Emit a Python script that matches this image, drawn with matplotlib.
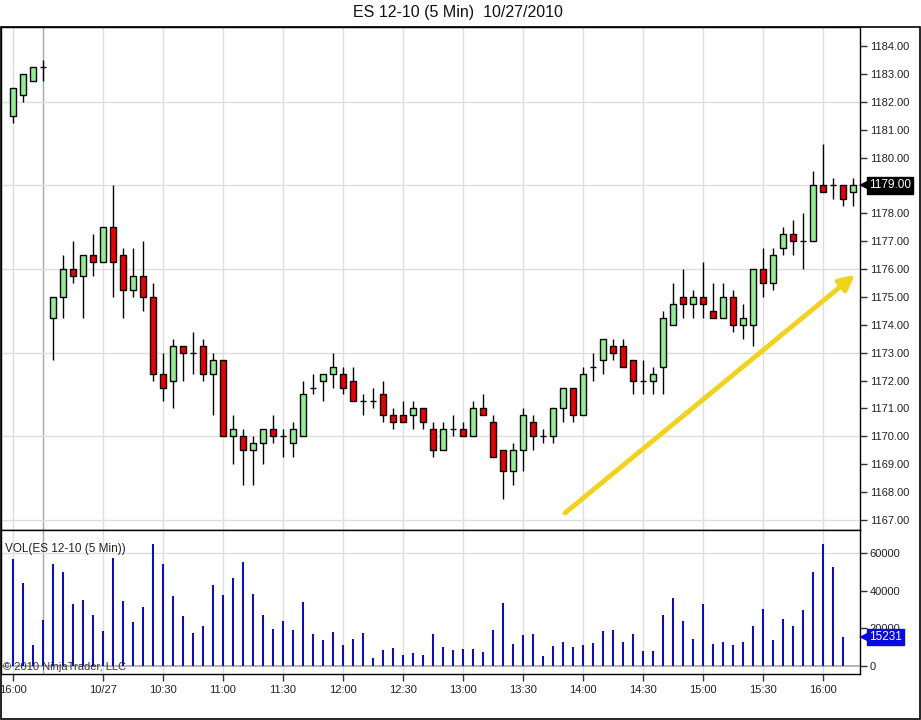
import matplotlib
matplotlib.use("Agg")
import matplotlib.pyplot as plt
import matplotlib.transforms as mtransforms
from matplotlib.patches import Rectangle
import numpy as np

plt.rcParams['font.family'] = ['Liberation Sans', 'DejaVu Sans']

title = "ES 12-10 (5 Min)  10/27/2010"
opens = [1181.5, 1182.25, 1182.75, 1183.25, 1174.25, 1175.0, 1176.0, 1175.75, 1176.5, 1176.25,
         1177.5, 1176.5, 1175.25, 1175.75, 1175.0, 1172.25, 1172.0, 1173.25, 1173.0, 1173.25,
         1172.25, 1172.75, 1170.0, 1170.0, 1169.5, 1169.75, 1170.25, 1170.0, 1169.75, 1170.0,
         1171.75, 1172.0, 1172.25, 1172.25, 1172.0, 1171.25, 1171.25, 1171.5, 1170.75, 1170.75,
         1170.75, 1171.0, 1170.25, 1169.5, 1170.25, 1170.25, 1170.0, 1171.0, 1170.5, 1169.5,
         1168.75, 1169.5, 1170.5, 1170.0, 1170.0, 1171.0, 1171.75, 1170.75, 1172.5, 1172.75,
         1173.25, 1173.25, 1172.75, 1172.0, 1172.0, 1172.5, 1174.0, 1175.0, 1174.75, 1175.0,
         1174.5, 1174.25, 1175.0, 1174.0, 1174.0, 1176.0, 1175.5, 1176.75, 1177.25, 1177.0,
         1177.0, 1179.0, 1179.0, 1179.0, 1178.75]
highs = [1182.5, 1183.0, 1183.25, 1183.5, 1175.0, 1176.5, 1177.0, 1176.5, 1177.25, 1177.5,
         1179.0, 1176.75, 1176.75, 1177.0, 1175.5, 1173.0, 1173.5, 1173.25, 1173.75, 1173.5,
         1173.0, 1172.75, 1170.75, 1170.25, 1170.0, 1170.25, 1170.75, 1170.25, 1170.5, 1172.0,
         1172.25, 1172.25, 1173.0, 1172.5, 1172.5, 1171.5, 1171.75, 1172.0, 1171.0, 1171.25,
         1171.25, 1171.0, 1170.5, 1170.5, 1170.75, 1170.5, 1171.25, 1171.5, 1170.75, 1169.5,
         1169.75, 1171.0, 1170.75, 1170.25, 1171.0, 1171.75, 1171.75, 1172.5, 1173.0, 1173.5,
         1173.5, 1173.5, 1172.75, 1172.75, 1172.5, 1174.5, 1175.5, 1176.0, 1175.25, 1176.25,
         1175.5, 1175.5, 1175.25, 1174.75, 1176.0, 1176.75, 1176.75, 1177.5, 1177.75, 1178.0,
         1179.5, 1180.5, 1179.25, 1179.0, 1179.25]
lows = [1181.25, 1182.0, 1182.75, 1182.75, 1172.75, 1174.25, 1175.5, 1174.25, 1175.75, 1176.25,
        1175.0, 1174.25, 1175.0, 1174.5, 1172.0, 1171.25, 1171.0, 1172.0, 1172.25, 1172.0,
        1170.75, 1170.0, 1169.0, 1168.25, 1168.25, 1169.0, 1169.75, 1169.25, 1169.25, 1170.0,
        1171.5, 1171.25, 1171.75, 1171.5, 1171.25, 1170.75, 1171.0, 1170.5, 1170.25, 1170.5,
        1170.25, 1170.25, 1169.25, 1169.5, 1170.0, 1170.0, 1170.0, 1170.75, 1169.25, 1167.75,
        1168.25, 1168.75, 1169.5, 1169.75, 1169.75, 1170.5, 1170.5, 1170.75, 1172.0, 1172.25,
        1172.75, 1172.5, 1171.5, 1171.5, 1171.5, 1171.5, 1174.0, 1174.25, 1174.25, 1174.25,
        1174.25, 1174.25, 1173.75, 1173.5, 1173.25, 1175.0, 1175.25, 1176.5, 1176.5, 1176.0,
        1177.0, 1178.75, 1178.5, 1178.25, 1178.25]
closes = [1182.5, 1183.0, 1183.25, 1183.25, 1175.0, 1176.0, 1175.75, 1176.5, 1176.25, 1177.5,
          1176.25, 1175.25, 1175.75, 1175.0, 1172.25, 1171.75, 1173.25, 1173.0, 1173.0, 1172.25,
          1172.75, 1170.0, 1170.25, 1169.5, 1169.75, 1170.25, 1170.0, 1170.0, 1170.25, 1171.5,
          1171.75, 1172.25, 1172.5, 1171.75, 1171.25, 1171.25, 1171.25, 1170.75, 1170.5, 1170.5,
          1171.0, 1170.5, 1169.5, 1170.25, 1170.25, 1170.0, 1171.0, 1170.75, 1169.25, 1168.75,
          1169.5, 1170.75, 1170.0, 1170.0, 1171.0, 1171.75, 1170.75, 1172.25, 1172.5, 1173.5,
          1173.0, 1172.5, 1172.0, 1172.0, 1172.25, 1174.25, 1174.75, 1174.75, 1175.0, 1174.75,
          1174.25, 1175.0, 1174.0, 1174.25, 1176.0, 1175.5, 1176.5, 1177.25, 1177.0, 1177.0,
          1179.0, 1178.75, 1179.0, 1178.5, 1179.0]
volumes = [56800, 44200, 11200, 24400, 54200, 49900, 32900, 35000, 27100, 18600,
           57300, 34500, 23400, 31300, 64800, 54200, 37200, 26600, 17500, 21200,
           43000, 37700, 46700, 55200, 38200, 27100, 19600, 23900, 19100, 34000,
           17000, 13800, 18100, 11200, 14300, 17500, 4200, 8500, 9600, 5800,
           6900, 5800, 17000, 10100, 8500, 9000, 9000, 7400, 19100, 33500,
           11700, 16500, 17000, 5300, 10600, 12700, 10100, 11200, 12200, 18600,
           19100, 12700, 17000, 8000, 8000, 27100, 36100, 23900, 14300, 32900,
           11700, 12700, 11200, 12700, 21200, 30300, 13800, 25000, 21200, 29700,
           49900, 64800, 52600, 15231]
tick_pos = [0, 9, 15, 21, 27, 33, 39, 45, 51, 57, 63, 69, 75, 81]
tick_labels = ["16:00", "10/27", "10:30", "11:00", "11:30", "12:00", "12:30", "13:00",
               "13:30", "14:00", "14:30", "15:00", "15:30", "16:00"]
session_break = 3
price_ticks = list(range(1167, 1185))
price_grid = [1167, 1170, 1173, 1176, 1179, 1182]
vol_ticks = [0, 20000, 40000, 60000]

W, H = 921, 720
fig = plt.figure(figsize=(W / 100, H / 100), dpi=100)
fig.patch.set_facecolor('white')

def fbox(l, t, r, b):
    return [l / W, 1 - b / H, (r - l) / W, (b - t) / H]

axp = fig.add_axes(fbox(1, 27, 860, 530))
axv = fig.add_axes(fbox(1, 530, 860, 674), sharex=axp)

n = len(opens)
x = np.arange(n)
o = np.array(opens); h = np.array(highs); l = np.array(lows); c = np.array(closes)

grid_c = '#dedede'
for ax in (axp, axv):
    for t in tick_pos:
        ax.axvline(t, color=grid_c, lw=1, zorder=0)
    ax.axvline(session_break, color='#a8a8a8', lw=1, zorder=0)
for g in price_grid:
    axp.axhline(g, color=grid_c, lw=1, zorder=0)

# wicks
axp.vlines(x, l, h, color='black', lw=1, zorder=2)
bw = 0.64
up = c > o
dn = c < o
dj = c == o
axp.bar(x[up], (c - o)[up], bottom=o[up], width=bw, color='#90ee90',
        edgecolor='black', linewidth=1, zorder=3)
axp.bar(x[dn], (o - c)[dn], bottom=c[dn], width=bw, color='#ee0000',
        edgecolor='black', linewidth=1, zorder=3)
axp.hlines(c[dj], x[dj] - bw / 2, x[dj] + bw / 2, color='black', lw=1, zorder=3)

axp.set_xlim((1 - 13) / 10, (860 - 13) / 10)
ypx = 27.88
axp.set_ylim(1184 - (530 - 46) / ypx, 1184 + (46 - 27) / ypx)

# arrow annotation
axp.annotate('', xy=(84.2, 1175.8), xytext=(55.2, 1167.25),
             arrowprops=dict(arrowstyle='-|>,head_length=0.9,head_width=0.45',
                             color='#f2d21a', lw=3.5, shrinkA=0, shrinkB=0), zorder=5)

last = closes[-1]
axp.yaxis.tick_right()
axp.set_yticks(price_ticks)
# the label under the last-price marker is hidden by the marker itself
axp.set_yticklabels(["" if p == last else f"{p:.2f}" for p in price_ticks])
axp.tick_params(axis='y', direction='out', length=5, width=1, color='#333333',
                labelsize=8, pad=2, labelcolor='#222222')
axp.tick_params(axis='x', which='both', length=0, labelbottom=False)
for s in axp.spines.values():
    s.set_color('black'); s.set_linewidth(1)

# last price marker
trans = mtransforms.blended_transform_factory(axp.transAxes, axp.transData)
tr_off = mtransforms.offset_copy(trans, fig=fig, x=9, y=0, units='dots')
axp.text(1.0, last, f"{last:.2f}", transform=tr_off, ha='left', va='center',
         color='white', fontsize=8.5, zorder=10, clip_on=False,
         bbox=dict(boxstyle='square,pad=0.18', fc='black', ec='black'))
tr_tri = mtransforms.offset_copy(trans, fig=fig, x=5, y=0, units='dots')
axp.plot([1.0], [last], marker='<', ms=8, color='black', transform=tr_tri,
         clip_on=False, zorder=10, markeredgewidth=0)

# volume
axv.bar(np.arange(len(volumes)), volumes, width=0.28, color='#0a0ae0', zorder=7)
axv.axhline(0, color='#a8a8a8', lw=1.2, zorder=2)
axv.axhline(60000, color=grid_c, lw=1, zorder=0)
vpx = 531
axv.set_ylim(-(674 - 666) * vpx, (666 - 530) * vpx)
axv.yaxis.tick_right()
axv.set_yticks(vol_ticks)
axv.set_yticklabels([str(v) for v in vol_ticks])
axv.tick_params(axis='y', direction='out', length=5, width=1, color='#333333',
                labelsize=8, pad=2, labelcolor='#222222')
axv.set_xticks(tick_pos)
axv.set_xticklabels(tick_labels)
axv.tick_params(axis='x', direction='out', length=5, width=1, color='#333333',
                labelsize=8, pad=3, labelcolor='#222222')
for s in axv.spines.values():
    s.set_color('black'); s.set_linewidth(1)

lastv = volumes[-1]
transv = mtransforms.blended_transform_factory(axv.transAxes, axv.transData)
tv_off = mtransforms.offset_copy(transv, fig=fig, x=9, y=0, units='dots')
axv.text(1.0, lastv, str(lastv), transform=tv_off, ha='left', va='center',
         color='white', fontsize=8.5, zorder=10, clip_on=False,
         bbox=dict(boxstyle='square,pad=0.18', fc='#0a0ae0', ec='#0a0ae0'))
tv_tri = mtransforms.offset_copy(transv, fig=fig, x=5, y=0, units='dots')
axv.plot([1.0], [lastv], marker='<', ms=8, color='#0a0ae0', transform=tv_tri,
         clip_on=False, zorder=10, markeredgewidth=0)

axv.text(4 / 859, (674 - 549) / 144, "VOL(ES 12-10 (5 Min))", transform=axv.transAxes,
         ha='left', va='center', fontsize=8.5, color='#222222', zorder=6)
axv.text(2 / 859, (674 - 667) / 144, "\u00a9 2010 NinjaTrader, LLC", transform=axv.transAxes,
         ha='left', va='center', fontsize=8, color='#333333', zorder=6)

fig.text(458 / W, 1 - 13 / H, title, ha='center', va='center', fontsize=11.5, color='#111111')

# outer border
fig.add_artist(Rectangle((0.5 / W, 1 - 718.5 / H), 919.5 / W, (718.5 - 27) / H,
                         transform=fig.transFigure, fill=False, ec='black', lw=1.2))

fig.savefig("out.png", dpi=100)
